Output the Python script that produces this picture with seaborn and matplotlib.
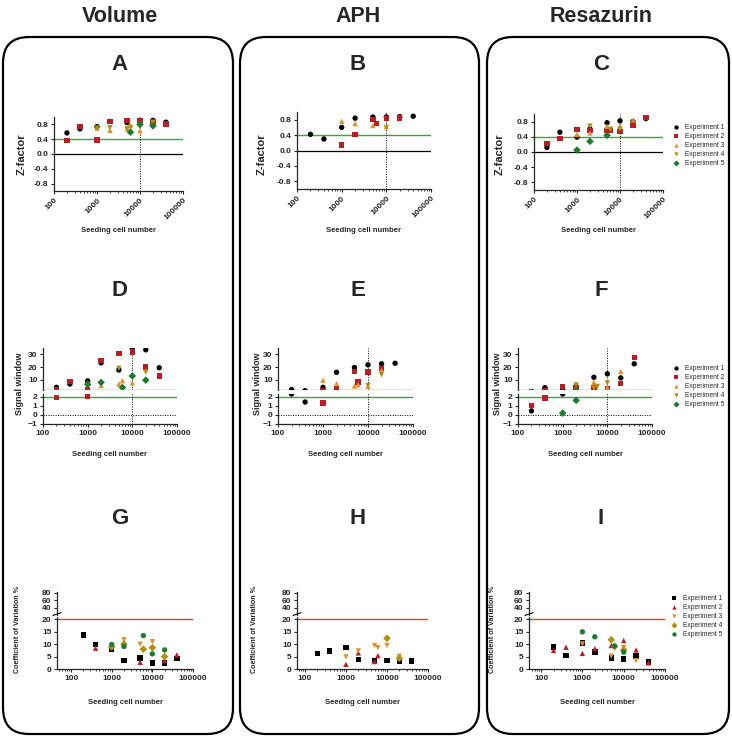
import numpy as np
import pandas as pd
import matplotlib.pyplot as plt
import seaborn as sns
from matplotlib.patches import FancyBboxPatch
from matplotlib.transforms import IdentityTransform
from matplotlib.ticker import LogLocator, NullFormatter

sns.set_style("ticks")
plt.rcParams['font.family'] = ['Liberation Sans', 'DejaVu Sans']
plt.rcParams['font.weight'] = 'bold'
plt.rcParams['axes.linewidth'] = 0.9

nan = np.nan
seeding = [200, 400, 1000, 2000, 5000, 6000, 10000, 20000, 40000]
experiments = ["Experiment 1", "Experiment 2", "Experiment 3", "Experiment 4", "Experiment 5"]

# Z-factor
z_volume = {
    "Experiment 1": [0.57, 0.68, 0.74, 0.88, 0.85, nan, 0.91, 0.91, 0.86],
    "Experiment 2": [0.37, 0.74, 0.38, 0.88, 0.90, nan, 0.90, 0.86, 0.81],
    "Experiment 3": [nan, nan, 0.70, 0.64, 0.68, 0.77, 0.63, 0.84, nan],
    "Experiment 4": [nan, nan, 0.70, 0.71, 0.68, 0.72, 0.75, 0.85, nan],
    "Experiment 5": [nan, nan, nan, nan, nan, 0.59, 0.80, 0.76, nan],
}
z_aph = {
    "Experiment 1": [0.42, 0.30, 0.60, 0.84, 0.87, nan, 0.87, 0.88, 0.89],
    "Experiment 2": [nan, nan, 0.14, 0.41, 0.81, 0.70, 0.83, 0.84, nan],
    "Experiment 3": [nan, nan, 0.76, 0.70, 0.65, nan, 0.62, nan, nan],
    "Experiment 4": [nan, nan, nan, nan, nan, nan, 0.60, nan, nan],
    "Experiment 5": [nan, nan, nan, nan, nan, nan, nan, nan, nan],
}
z_resazurin = {
    "Experiment 1": [0.12, 0.52, 0.39, 0.61, 0.77, nan, 0.82, 0.80, 0.88],
    "Experiment 2": [0.23, 0.35, 0.60, 0.57, 0.56, 0.57, 0.54, 0.69, 0.90],
    "Experiment 3": [nan, nan, 0.46, 0.50, 0.68, nan, 0.68, 0.84, nan],
    "Experiment 4": [nan, nan, nan, 0.68, nan, 0.60, 0.60, nan, nan],
    "Experiment 5": [nan, nan, 0.05, 0.28, 0.44, nan, nan, nan, nan],
}

# Signal window
sw_volume = {
    "Experiment 1": [4.1, 6.7, 9.2, 23.3, 17.7, nan, 34.0, 33.6, 19.5],
    "Experiment 2": [1.9, 8.8, 2.0, 25.4, 30.5, nan, 32.0, 20.0, 13.0],
    "Experiment 3": [nan, nan, nan, 5.5, 6.7, 9.3, 7.7, nan, nan],
    "Experiment 4": [nan, nan, nan, nan, 19.0, nan, nan, 16.0, nan],
    "Experiment 5": [nan, nan, 6.5, 8.0, nan, 4.0, 13.0, 9.7, nan],
}
sw_aph = {
    "Experiment 1": [2.3, 1.42, 4.1, 15.9, 19.7, nan, 21.8, 22.6, 23.0],
    "Experiment 2": [nan, nan, 1.3, 2.8, 16.7, 8.2, 16.2, 19.0, nan],
    "Experiment 3": [nan, nan, 9.7, 7.0, 5.2, 6.2, 5.0, 17.5, nan],
    "Experiment 4": [nan, nan, nan, nan, nan, nan, 5.5, 14.0, nan],
    "Experiment 5": [nan, nan, nan, nan, nan, nan, nan, nan, nan],
}
sw_resazurin = {
    "Experiment 1": [0.44, 3.8, 2.3, 4.8, 12.0, nan, 14.7, 11.5, 22.6],
    "Experiment 2": [1.05, 1.85, 4.8, 4.0, 3.8, nan, 3.2, 7.0, 27.5],
    "Experiment 3": [nan, nan, nan, 3.2, 8.0, nan, 3.8, 16.5, nan],
    "Experiment 4": [nan, nan, nan, 6.0, 3.5, 4.8, 7.5, nan, nan],
    "Experiment 5": [nan, nan, 0.2, 1.6, nan, nan, nan, nan, nan],
}

# Coefficient of variation %
cv_volume = {
    "Experiment 1": [13.8, 9.9, 7.8, 3.4, 4.5, nan, 2.4, 2.4, 4.2],
    "Experiment 2": [nan, 8.4, nan, nan, 2.7, nan, nan, 3.5, 5.7],
    "Experiment 3": [nan, nan, nan, 11.8, 10.0, nan, 11.0, nan, nan],
    "Experiment 4": [nan, nan, 8.9, 10.1, nan, 8.0, 8.6, 5.0, nan],
    "Experiment 5": [nan, nan, 9.9, 9.1, nan, 13.5, 6.1, 7.7, nan],
}
cv_aph = {
    "Experiment 1": [6.2, 7.2, 8.6, 3.9, 3.5, nan, 3.4, 3.2, 3.2],
    "Experiment 2": [nan, nan, 1.9, 6.5, 3.0, 5.4, nan, nan, nan],
    "Experiment 3": [nan, nan, 4.9, 7.3, 9.5, 8.6, 9.5, 5.1, nan],
    "Experiment 4": [nan, nan, nan, nan, nan, nan, 12.4, 4.3, nan],
    "Experiment 5": [nan, nan, nan, nan, nan, nan, nan, nan, nan],
}
cv_resazurin = {
    "Experiment 1": [8.9, 5.5, 10.5, 6.8, 4.4, nan, 4.0, 5.3, 2.9],
    "Experiment 2": [7.5, 8.8, 6.3, 8.2, 9.5, nan, 11.5, 7.7, 2.5],
    "Experiment 3": [nan, nan, 10.1, nan, 5.2, 8.3, 8.6, 3.4, nan],
    "Experiment 4": [nan, nan, nan, nan, 11.8, 9.1, 7.7, nan, nan],
    "Experiment 5": [nan, nan, 15.0, 13.0, nan, 9.3, 6.8, nan, nan],
}

colors = ["#000000", "#B81E24", "#E0912F", "#B09010", "#1E7B2E"]
z_markers = ["o", "s", "^", "v", "D"]
cv_markers = ["s", "^", "v", "D", "o"]
green = "#3FA33F"

W, H = 732, 738
fig = plt.figure(figsize=(W / 100, H / 100), dpi=100)


def rect(x0, y0, x1, y1):
    return [x0 / W, 1 - y1 / H, (x1 - x0) / W, (y1 - y0) / H]


def scatter(ax, data, markers, legend=False):
    df = pd.DataFrame(data, index=seeding).rename_axis("cells").reset_index()
    df = df.melt(id_vars="cells", var_name="exp", value_name="val").dropna()
    sns.scatterplot(data=df, x="cells", y="val", hue="exp", style="exp",
                    hue_order=experiments, style_order=experiments,
                    palette=dict(zip(experiments, colors)),
                    markers=dict(zip(experiments, markers)),
                    s=15, linewidth=0, ax=ax, legend=legend, zorder=3)
    ax.set_xlabel("")
    ax.set_ylabel("")


def log_x(ax, xmin, rotate=False):
    ax.set_xscale("log")
    ax.set_xlim(xmin, 1e5)
    ax.set_xticks([100, 1000, 10000, 100000])
    if rotate:
        ax.set_xticklabels(["100", "1000", "10000", "100000"], rotation=45,
                           ha="right", rotation_mode="anchor")
    else:
        ax.set_xticklabels(["100", "1000", "10000", "100000"])
    ax.xaxis.set_minor_locator(LogLocator(base=10, subs=np.arange(2, 10)))
    ax.xaxis.set_minor_formatter(NullFormatter())
    ax.tick_params(axis="both", which="major", length=2.5, width=0.8, labelsize=6, pad=1.5)
    ax.tick_params(axis="x", which="minor", length=1.5, width=0.6)


def top_segment(ax, xmin):
    # upper part of a broken y axis: no x axis of its own
    ax.set_xscale("log")
    ax.set_xlim(xmin, 1e5)
    ax.xaxis.set_visible(False)
    ax.spines["bottom"].set_visible(False)
    ax.tick_params(axis="y", length=2.5, width=0.8, labelsize=6, pad=1.5)


def add_legend(ax, x, y):
    sns.move_legend(ax, "upper left", bbox_to_anchor=(x / W, 1 - y / H),
                    bbox_transform=fig.transFigure, frameon=False, title=None,
                    prop={"weight": "normal", "size": 4.8}, handlelength=1,
                    handletextpad=0.8, labelspacing=0.3, borderpad=0, borderaxespad=0,
                    markerscale=0.8)


# rounded column frames
for bx0, bx1 in [(3, 233), (240, 479), (487, 729)]:
    fig.add_artist(FancyBboxPatch((bx0, H - 734), bx1 - bx0, 734 - 37,
                                  boxstyle="round,pad=0,rounding_size=26",
                                  transform=IdentityTransform(), fill=False,
                                  edgecolor="black", linewidth=1.6))

for cx, title in [(120, "Volume"), (358, "APH"), (601, "Resazurin")]:
    fig.text(cx / W, 1 - 16 / H, title, ha="center", va="center", fontsize=15.5)

letters = [("A", 120, 64), ("B", 358, 64), ("C", 601, 64),
           ("D", 120, 290), ("E", 358, 290), ("F", 601, 290),
           ("G", 120, 518), ("H", 358, 518), ("I", 601, 518)]
for letter, cx, cy in letters:
    fig.text(cx / W, 1 - cy / H, letter, ha="center", va="center", fontsize=16)

# ---- Z-factor row ----
z_panels = [((54, 117, 183, 191), z_volume, 22, False),
            ((297, 112, 431, 189), z_aph, 262, False),
            ((534, 114, 663, 190), z_resazurin, 500, True)]
for geom, data, ylab_x, leg in z_panels:
    ax = fig.add_axes(rect(*geom))
    scatter(ax, data, z_markers, legend="full" if leg else False)
    ax.axhline(0.4, color=green, lw=1, zorder=1)
    ax.axhline(0, color="black", lw=0.9, zorder=1)
    ax.axvline(1e4, color="black", lw=0.7, ls=(0, (1, 1.5)), zorder=1)
    ax.set_ylim(-1, 1)
    ax.set_yticks([-0.8, -0.4, 0, 0.4, 0.8])
    ax.set_yticklabels(["-0.8", "-0.4", "0.0", "0.4", "0.8"])
    log_x(ax, 100, rotate=True)
    sns.despine(ax=ax)
    fig.text(ylab_x / W, 1 - 154 / H, "Z-factor", rotation=90, ha="center", va="center", fontsize=8)
    fig.text((geom[0] + geom[2]) / 2 / W, 1 - 231 / H, "Seeding cell number",
             ha="center", va="center", fontsize=5.5)
    if leg:
        add_legend(ax, 673, 124)

# ---- Signal window row ----
sw_panels = [((43, 177), sw_volume, 20, False),
             ((278, 413), sw_aph, 257, False),
             ((518, 652), sw_resazurin, 497, True)]
for (x0, x1), data, ylab_x, leg in sw_panels:
    top = fig.add_axes(rect(x0, 348, x1, 390))
    bot = fig.add_axes(rect(x0, 394, x1, 424))
    scatter(top, data, z_markers, legend="full" if leg else False)
    scatter(bot, data, z_markers)
    top.set_ylim(2, 35)
    top.set_yticks([10, 20, 30])
    bot.set_ylim(-1, 2.3)
    bot.set_yticks([-1, 0, 1, 2])
    for a in (top, bot):
        a.axhline(2, color=green, lw=1, zorder=1)
        a.axvline(1e4, color="black", lw=0.7, ls=(0, (1, 1.5)), zorder=1)
        sns.despine(ax=a)
    bot.axhline(0, color="black", lw=0.7, ls=(0, (1, 1.5)), zorder=1)
    top_segment(top, 100)
    log_x(bot, 100)
    fig.text(ylab_x / W, 1 - 384 / H, "Signal window", rotation=90, ha="center", va="center", fontsize=6.5)
    fig.text((x0 + x1) / 2 / W, 1 - 454 / H, "Seeding cell number",
             ha="center", va="center", fontsize=5.5)
    if leg:
        add_legend(top, 673, 365)

# ---- Coefficient of variation row ----
cv_panels = [((57, 193), 45, cv_volume, 18, False),
             ((297, 428), 64, cv_aph, 255, False),
             ((529, 665), 51, cv_resazurin, 493, True)]
for (x0, x1), xmin, data, ylab_x, leg in cv_panels:
    top = fig.add_axes(rect(x0, 592, x1, 615))
    bot = fig.add_axes(rect(x0, 617, x1, 669))
    scatter(bot, data, cv_markers, legend="full" if leg else False)
    top.set_ylim(20, 82)
    top.set_yticks([40, 60, 80])
    bot.set_ylim(0, 21)
    bot.set_yticks([0, 5, 10, 15, 20])
    bot.axhline(20, color="#E23B3B", lw=1, zorder=1)
    for a in (top, bot):
        sns.despine(ax=a)
    top_segment(top, xmin)
    log_x(bot, xmin)
    # small break mark on the y axis
    top.plot([-0.03, 0.03], [-0.02, 0.1], transform=top.transAxes, color="black",
             lw=0.8, clip_on=False)
    fig.text(ylab_x / W, 1 - 629 / H, "Coefficient of Variation %", rotation=90,
             ha="center", va="center", fontsize=5.2)
    fig.text((x0 + x1) / 2 / W, 1 - 702 / H, "Seeding cell number",
             ha="center", va="center", fontsize=5.5)
    if leg:
        add_legend(bot, 671, 595)

fig.savefig("out.png", dpi=100)
plt.close(fig)
